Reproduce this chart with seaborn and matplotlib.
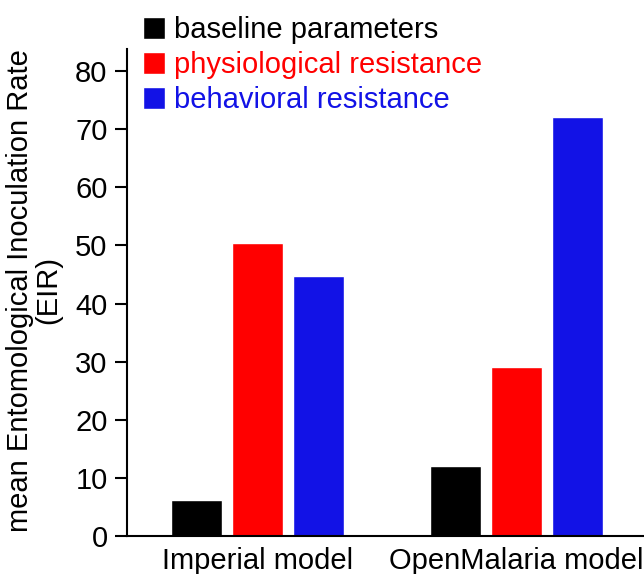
import matplotlib
matplotlib.use("Agg")
import matplotlib.pyplot as plt
import seaborn as sns
import pandas as pd

models = ["Imperial model", "OpenMalaria model"]
scenarios = ["baseline parameters", "physiological resistance", "behavioral resistance"]
baseline = [6.2, 12.1]
physiological = [50.5, 29.0]
behavioral = [44.7, 72.1]
colors = ["#000000", "#ff0000", "#1212e6"]

rows = []
for scen, vals in zip(scenarios, [baseline, physiological, behavioral]):
    for m, v in zip(models, vals):
        rows.append({"model": m, "scenario": scen, "EIR": v})
df = pd.DataFrame(rows)

sns.set_style("ticks")
plt.rcParams["font.family"] = ["Liberation Sans", "DejaVu Sans"]
plt.rcParams.update({"text.color": "black", "axes.labelcolor": "black",
                     "xtick.color": "black", "ytick.color": "black",
                     "axes.edgecolor": "black"})

fig = plt.figure(figsize=(6.44, 5.74), dpi=100)
ax = fig.add_axes([127 / 644, 1 - 536 / 574, 1 - 127 / 644, (536 - 49) / 574])

sns.barplot(data=df, x="model", y="EIR", hue="scenario", hue_order=scenarios,
            palette=colors, width=0.708, gap=0.164, saturation=1, ax=ax)

ax.set_xlim(-0.505, 1.495)
ax.set_ylim(0, 83.8)
ax.set_yticks(range(0, 81, 10))
ax.set_xlabel("")
ax.set_ylabel("mean Entomological Inoculation Rate\n(EIR)", fontsize=21, linespacing=1.0)
ax.yaxis.set_label_coords(-0.125, 0.505)

sns.despine(ax=ax)
for s in ["left", "bottom"]:
    ax.spines[s].set_linewidth(1.5)
ax.tick_params(axis="y", labelsize=21, length=9, width=1.5, direction="out", pad=5)
ax.tick_params(axis="x", labelsize=21, length=0, pad=8)

handles, labels = ax.get_legend_handles_labels()
ax.legend(handles, labels, loc="upper left", bbox_to_anchor=(143 / 644, 1 - 16 / 574),
          bbox_transform=fig.transFigure, frameon=False, fontsize=21,
          handlelength=0.75, handleheight=0.75, handletextpad=0.3,
          labelspacing=0.24, borderpad=0, borderaxespad=0, labelcolor=colors)

fig.savefig("out.png", dpi=100)
